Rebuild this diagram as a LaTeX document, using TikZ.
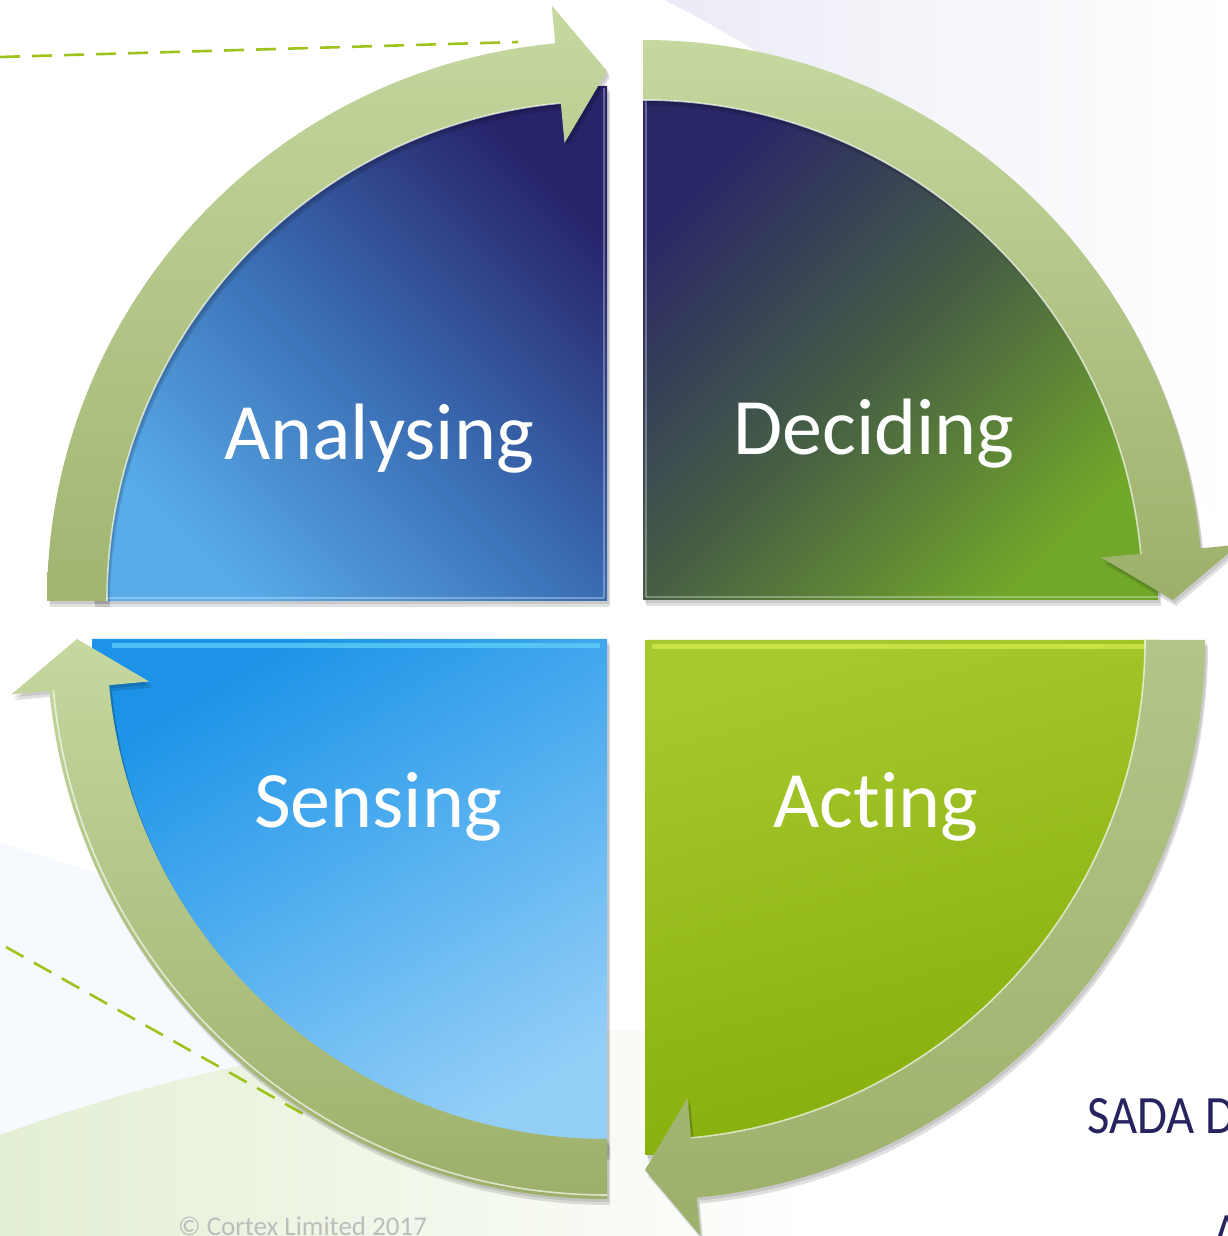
\documentclass[tikz,border=0pt]{standalone}
\usepackage{fontspec}
\setmainfont{Carlito}[Ligatures={NoCommon}]
\usetikzlibrary{shadows}
\definecolor{navyA}{HTML}{28246A}
\definecolor{midA}{HTML}{3A6CB2}
\definecolor{lblueA}{HTML}{58ACEA}
\definecolor{decNavy}{HTML}{2A2767}
\definecolor{decMid}{HTML}{465E44}
\definecolor{decGreen}{HTML}{72A82A}
\definecolor{actTop}{HTML}{A7C82E}
\definecolor{actBot}{HTML}{84AD0A}
\definecolor{senTop}{HTML}{1C93E7}
\definecolor{senMid}{HTML}{56B1F0}
\definecolor{senBot}{HTML}{93CEF7}
\definecolor{bandTop}{HTML}{C4D8A0}
\definecolor{bandMid}{HTML}{B2C689}
\definecolor{bandBot}{HTML}{9DB06A}
\definecolor{dashgreen}{HTML}{9DC31C}
\definecolor{sada}{HTML}{27235F}
\definecolor{copygray}{HTML}{BDBDBD}
\definecolor{bggreen}{HTML}{E3EFD4}
\definecolor{bgblue}{HTML}{F6FAFE}
\definecolor{lav}{HTML}{EBEBF6}
\definecolor{actStripe}{HTML}{D2EC4C}
\definecolor{senStripe}{HTML}{5ED0F8}
\begin{document}
\begin{tikzpicture}[x=1pt,y=1pt,
  softshadow/.style={
    general shadow={fill=black,opacity=.10,shadow xshift=2pt,shadow yshift=-3pt},
    general shadow={fill=black,opacity=.12,shadow xshift=3pt,shadow yshift=-6pt}},
  lbl/.style={text=white,font=\fontsize{80}{90}\selectfont,anchor=base,inner sep=0pt},
  dashln/.style={draw=dashgreen,line width=2.6pt,dash pattern=on 20pt off 12pt},
  hilite/.style={draw=white,opacity=.65,line width=1.6pt},
  bevel/.style={draw=white,opacity=.30,line width=1.5pt}
]
\useasboundingbox (0,0) rectangle (1227,1236);
\fill[white] (0,0) rectangle (1227,1236);
% background washes
\shade[left color=lav,right color=white]
  (664,1236) .. controls (900,1120) and (1100,900) .. (1227,700) -- (1227,1236) -- cycle;
\fill[bgblue] (0,393) -- (120,356) .. controls (300,300) and (450,250) .. (600,200)
  -- (600,0) -- (0,0) -- cycle;
\shade[left color=bggreen,right color=white]
  (0,101) .. controls (250,190) and (450,220) .. (820,200) -- (820,0) -- (0,0) -- cycle;
% dashed guide lines
\coordinate (d1a) at (0,1179);
\coordinate (d1b) at (518,1194);
\coordinate (d2a) at (6,289);
\coordinate (d2b) at (305,121);
\draw[dashln] (d1a) -- (d1b);
\draw[dashln] (d2a) -- (d2b);
% quadrants
\shade[softshadow,top color=navyA,bottom color=lblueA,middle color=midA,shading angle=-45]
  (607,635) -- ++(180:515) arc[start angle=180,end angle=90,radius=515] -- cycle;
\shade[softshadow,top color=decNavy,bottom color=decGreen,middle color=decMid,shading angle=45]
  (643,636) -- ++(90:515) arc[start angle=90,end angle=0,radius=515] -- cycle;
\shade[softshadow,top color=actTop,bottom color=actBot,shading angle=15]
  (645,596) -- ++(0:515) arc[start angle=0,end angle=-90,radius=515] -- cycle;
\shade[softshadow,top color=senTop,bottom color=senBot,middle color=senMid,shading angle=30]
  (607,597) -- ++(-90:515) arc[start angle=-90,end angle=-180,radius=515] -- cycle;
% bevel highlights on the quadrant edges
\draw[bevel] (604,638) -- (92,638);
\draw[bevel] (604,638) -- (604,1148);
\draw[bevel] (646,639) -- (1158,639);
\draw[bevel] (646,639) -- (646,1150);
\draw[draw=actStripe,opacity=.75,line width=5pt] (652,589) -- (1150,589);
\draw[draw=senStripe,opacity=.75,line width=5pt] (112,590) -- (600,590);
% cycle bands with arrow heads
\begin{scope}[shift={(607,635)}]
  \shade[softshadow,top color=bandTop,bottom color=bandBot!80!bandMid]
    (180:560) arc[start angle=180,end angle=95.3,radius=560]
    -- (95.3:598) -- (90:530) -- (95.3:460) -- (95.3:500)
    arc[start angle=95.3,end angle=180,radius=500] -- cycle;
  \draw[hilite] (95.3:500) arc[start angle=95.3,end angle=180,radius=500];
\end{scope}
\begin{scope}[shift={(643,636)}]
  \shade[softshadow,top color=bandTop,bottom color=bandBot]
    (90:560) arc[start angle=90,end angle=5.3,radius=560]
    -- (5.3:598) -- (0:530) -- (5.3:460) -- (5.3:500)
    arc[start angle=5.3,end angle=90,radius=500] -- cycle;
  \draw[hilite] (5.3:500) arc[start angle=5.3,end angle=90,radius=500];
\end{scope}
\begin{scope}[shift={(645,596)}]
  \shade[softshadow,top color=bandMid,bottom color=bandBot]
    (0:560) arc[start angle=0,end angle=-84.7,radius=560]
    -- (-84.7:598) -- (-90:530) -- (-84.7:460) -- (-84.7:500)
    arc[start angle=-84.7,end angle=0,radius=500] -- cycle;
  \draw[hilite] (-84.7:500) arc[start angle=-84.7,end angle=0,radius=500];
\end{scope}
\begin{scope}[shift={(607,597)}]
  \shade[softshadow,top color=bandTop,bottom color=bandBot]
    (270:560) arc[start angle=270,end angle=185.3,radius=560]
    -- (185.3:598) -- (180:530) -- (185.3:460) -- (185.3:500)
    arc[start angle=185.3,end angle=270,radius=500] -- cycle;
  \draw[hilite] (185.3:556) arc[start angle=185.3,end angle=270,radius=556];
\end{scope}
% labels
\node[lbl] (analysing) at (379,776) {Analysing};
\node[lbl] (deciding) at (874,781) {Deciding};
\node[lbl] (sensing) at (378,408) {Sensing};
\node[lbl] (acting) at (876,408) {Acting};
% side texts
\node[anchor=base west,inner sep=0pt,xscale=.9,text=sada,font=\fontsize{54}{60}\selectfont] (sadatxt) at (1087,102) {SADA D};
\node[anchor=base west,inner sep=0pt,xscale=.9,text=sada,font=\fontsize{54}{60}\selectfont] (atxt) at (1213,-14) {A};
\node[anchor=base west,inner sep=0pt,text=copygray,font=\fontsize{27}{30}\selectfont] (copyr) at (178,0.5) {© Cortex Limited 2017};
\end{tikzpicture}
\end{document}
